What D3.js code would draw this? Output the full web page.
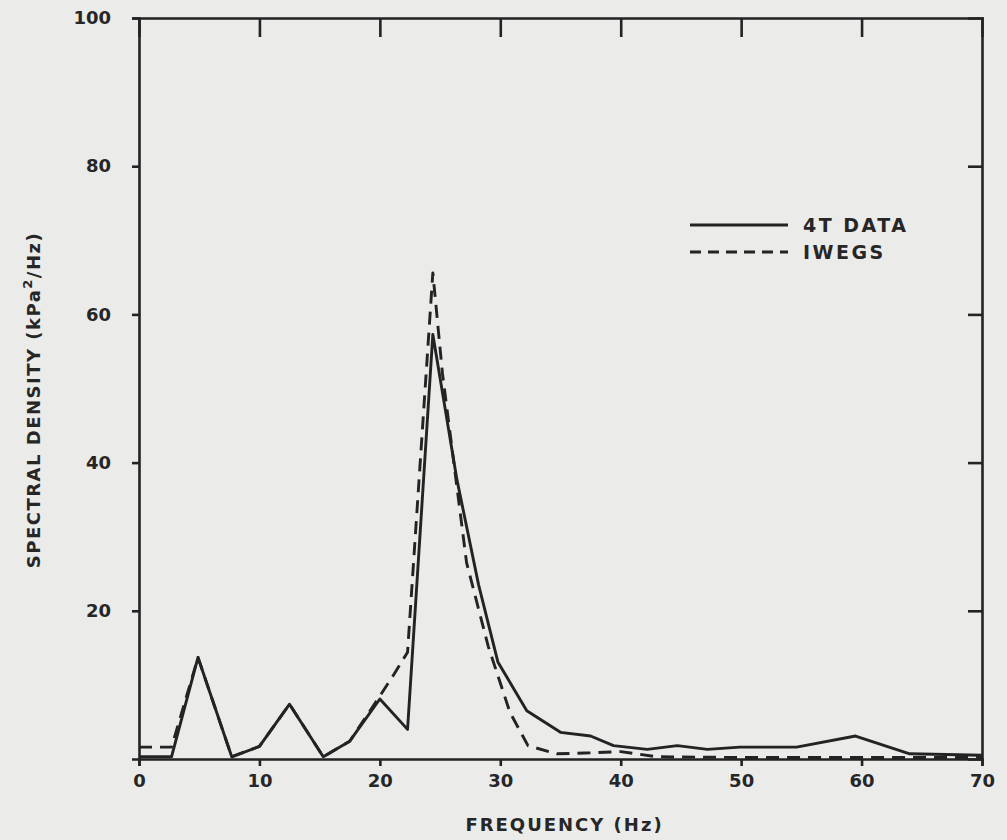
<!DOCTYPE html>
<html lang="en">
<head>
<meta charset="utf-8">
<title>Spectral density - 4T data vs IWEGS</title>
<style>
  body { margin: 0; background: #ebebea; }
  svg text { font-family: "DejaVu Sans", sans-serif; font-weight: bold; fill: #262626; }
</style>
</head>
<body>
<svg id="chart" width="1007" height="840"></svg>
<script src="https://d3js.org/d3.v7.min.js"></script>
<script>

//data (frequency in Hz, density in kPa^2/Hz)
var freq4T = [0, 2.7, 4.9, 7.7, 10, 12.5, 15.3, 17.5, 20, 22.3, 24.4, 26.4, 28.2, 29.8, 32.2, 35, 37.5, 39.4, 42.2, 44.7, 47.2, 49.9, 54.6, 59.5, 64, 70];
var psd4T = [0.3, 0.3, 13.7, 0.3, 1.7, 7.4, 0.3, 2.4, 8.1, 4.0, 57.3, 37.7, 23.5, 13.1, 6.5, 3.6, 3.1, 1.8, 1.3, 1.8, 1.3, 1.6, 1.6, 3.1, 0.7, 0.5];
var freqIwegs = [0, 2.7, 4.9, 7.7, 10, 12.5, 15.3, 17.5, 20, 21.2, 22.3, 24.4, 25.2, 27.2, 29, 30.8, 32.3, 34.7, 37, 40, 43, 50, 70];
var psdIwegs = [1.6, 1.6, 13.7, 0.3, 1.7, 7.4, 0.3, 2.4, 8.5, 11.5, 14.4, 65.6, 52, 26.5, 15.2, 6.3, 1.8, 0.7, 0.8, 1.0, 0.3, 0.2, 0.2];

var xTicks = [0, 10, 20, 30, 40, 50, 60, 70];
var yTicks = [20, 40, 60, 80, 100];
var legendNames = ["4T DATA", "IWEGS"];

//plot box in pixels
var LEFT = 139, RIGHT = 982, TOP = 18, BOTTOM = 759;
var INK = "#232323";

var svg = d3.select("#chart");

var x = d3.scaleLinear().domain([0, 70]).range([LEFT, RIGHT]);
var y = d3.scaleLinear().domain([0, 100]).range([BOTTOM, TOP]);

//axes - bottom/left ticks outward, top/right ticks inward
var bottomAxis = d3.axisBottom(x).tickValues(xTicks).tickSize(7).tickPadding(8);
var topAxis = d3.axisTop(x).tickValues(xTicks.slice(1, -1)).tickSize(-19).tickFormat("");
var leftAxis = d3.axisLeft(y).tickValues(yTicks).tickSize(7).tickPadding(21);
var rightAxis = d3.axisRight(y).tickValues(yTicks.slice(0, -1)).tickSize(-14).tickFormat("");

function styleAxis(g) {
    g.select(".domain").attr("stroke", INK).attr("stroke-width", 2.6);
    g.selectAll(".tick line").attr("stroke", INK).attr("stroke-width", 2.6);
    g.selectAll(".tick text")
        .style("font-size", "18px")
        .attr("fill", INK);
}

svg.append("g").attr("transform", "translate(0," + BOTTOM + ")").call(bottomAxis).call(styleAxis);
svg.append("g").attr("transform", "translate(0," + TOP + ")").call(topAxis).call(styleAxis);
svg.append("g").attr("transform", "translate(" + LEFT + ",0)").call(leftAxis).call(styleAxis);
svg.append("g").attr("transform", "translate(" + RIGHT + ",0)").call(rightAxis).call(styleAxis);

//the curves
var line = d3.line()
    .x(function (d) { return x(d[0]); })
    .y(function (d) { return y(d[1]); });

var data4T = d3.zip(freq4T, psd4T);
var dataIwegs = d3.zip(freqIwegs, psdIwegs);

svg.append("path")
    .datum(dataIwegs)
    .attr("d", line)
    .attr("fill", "none")
    .attr("stroke", INK)
    .attr("stroke-width", 2.9)
    .attr("stroke-dasharray", "13,8")
    .attr("stroke-linejoin", "round");

svg.append("path")
    .datum(data4T)
    .attr("d", line)
    .attr("fill", "none")
    .attr("stroke", INK)
    .attr("stroke-width", 2.9)
    .attr("stroke-linejoin", "round");

//legend
var legend = svg.append("g").attr("transform", "translate(690,225)");
legendNames.forEach(function (name, i) {
    var row = legend.append("g").attr("transform", "translate(0," + (i * 27) + ")");
    row.append("line")
        .attr("x1", 0).attr("x2", 98)
        .attr("y1", 0).attr("y2", 0)
        .attr("stroke", INK)
        .attr("stroke-width", 2.9)
        .attr("stroke-dasharray", i == 1 ? "11,7" : null);
    row.append("text")
        .attr("x", 113).attr("y", 7)
        .style("font-size", "19px")
        .style("letter-spacing", "2.5px")
        .text(name);
});

//axis titles
svg.append("text")
    .attr("x", (LEFT + RIGHT) / 2 + 4)
    .attr("y", 831)
    .attr("text-anchor", "middle")
    .style("font-size", "18px")
    .style("letter-spacing", "2px")
    .text("FREQUENCY (Hz)");

var yTitle = svg.append("text")
    .attr("transform", "translate(40,400) rotate(-90)")
    .attr("text-anchor", "middle")
    .style("font-size", "18px")
    .style("letter-spacing", "1.5px");
yTitle.append("tspan").text("SPECTRAL DENSITY (kPa");
yTitle.append("tspan").attr("dy", -8).style("font-size", "13px").text("2");
yTitle.append("tspan").attr("dy", 8).text("/Hz)");

</script>
</body>
</html>
